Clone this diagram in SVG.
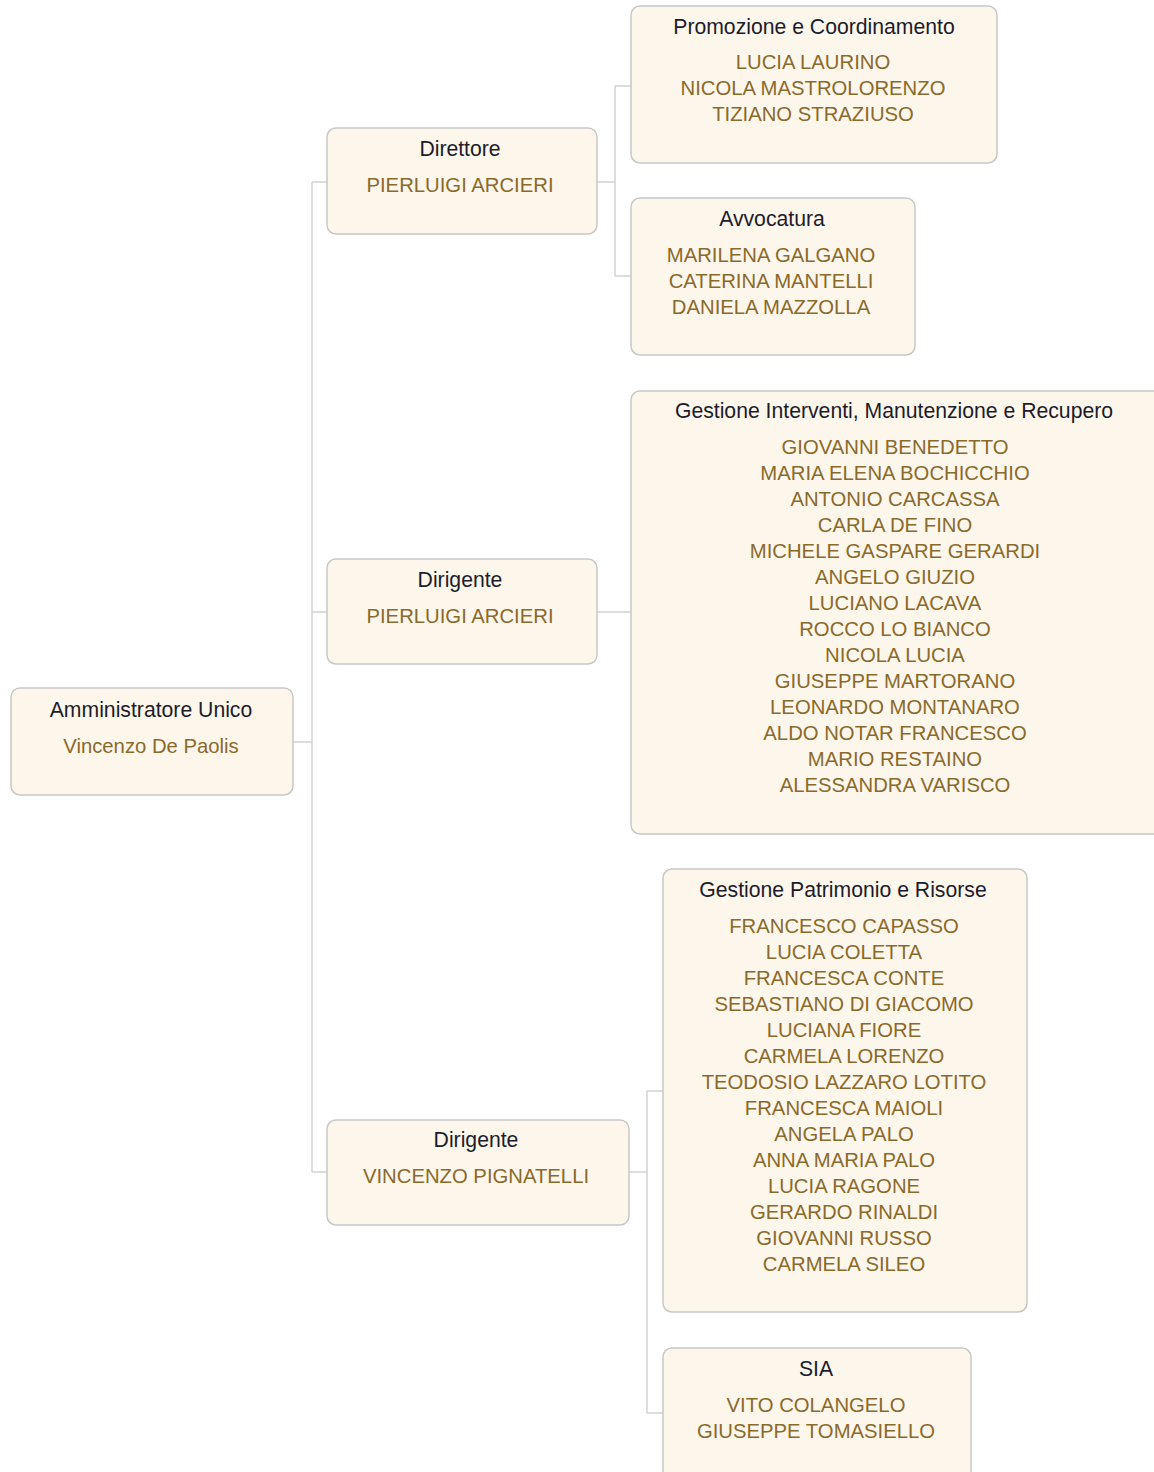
<svg xmlns="http://www.w3.org/2000/svg" width="1154" height="1472" viewBox="0 0 1154 1472">
<style>
.box{fill:#fdf6ea;stroke:#c8c8c8;stroke-width:1.5}
.t{font-family:"Liberation Sans",Arial,sans-serif;font-size:21.2px;fill:#1c1c2c;text-anchor:middle}
.n{font-family:"Liberation Sans",Arial,sans-serif;font-size:20.3px;fill:#8a6a2c;text-anchor:middle}
.c{fill:none;stroke:#d2d2d2;stroke-width:1.5}
</style>
<rect width="1154" height="1472" fill="#ffffff"/>
<g id="connectors">
<path class="c" d="M293,742 H312 M312,182 V1172 M312,182 H327 M312,612 H327 M312,1172 H327"/>
<path class="c" d="M597,182 H615 M615,86 V276 M615,86 H631 M615,276 H631"/>
<path class="c" d="M597,612 H631"/>
<path class="c" d="M629,1172 H647 M647,1091 V1413 M647,1091 H663 M647,1413 H663"/>
</g>
<g id="root">
<rect class="box" x="11" y="688" width="282" height="107" rx="9"/>
<text class="t" x="151" y="717">Amministratore Unico</text>
<text class="n" x="151" y="753">Vincenzo De Paolis</text>
</g>
<g id="direttore">
<rect class="box" x="327" y="128" width="270" height="106" rx="9"/>
<text class="t" x="460" y="156">Direttore</text>
<text class="n" x="460" y="192">PIERLUIGI ARCIERI</text>
</g>
<g id="promozione">
<rect class="box" x="631" y="6" width="366" height="157" rx="9"/>
<text class="t" x="814" y="34">Promozione e Coordinamento</text>
<text class="n" x="813" y="69">LUCIA LAURINO</text>
<text class="n" x="813" y="95">NICOLA MASTROLORENZO</text>
<text class="n" x="813" y="121">TIZIANO STRAZIUSO</text>
</g>
<g id="avvocatura">
<rect class="box" x="631" y="198" width="284" height="157" rx="9"/>
<text class="t" x="772" y="226">Avvocatura</text>
<text class="n" x="771" y="262">MARILENA GALGANO</text>
<text class="n" x="771" y="288">CATERINA MANTELLI</text>
<text class="n" x="771" y="314">DANIELA MAZZOLLA</text>
</g>
<g id="dirigente1">
<rect class="box" x="327" y="559" width="270" height="105" rx="9"/>
<text class="t" x="460" y="587">Dirigente</text>
<text class="n" x="460" y="623">PIERLUIGI ARCIERI</text>
</g>
<g id="gestione-interventi">
<rect class="box" x="631" y="391" width="540" height="443" rx="9"/>
<text class="t" x="894" y="418">Gestione Interventi, Manutenzione e Recupero</text>
<text class="n" x="895" y="454">GIOVANNI BENEDETTO</text>
<text class="n" x="895" y="480">MARIA ELENA BOCHICCHIO</text>
<text class="n" x="895" y="506">ANTONIO CARCASSA</text>
<text class="n" x="895" y="532">CARLA DE FINO</text>
<text class="n" x="895" y="558">MICHELE GASPARE GERARDI</text>
<text class="n" x="895" y="584">ANGELO GIUZIO</text>
<text class="n" x="895" y="610">LUCIANO LACAVA</text>
<text class="n" x="895" y="636">ROCCO LO BIANCO</text>
<text class="n" x="895" y="662">NICOLA LUCIA</text>
<text class="n" x="895" y="688">GIUSEPPE MARTORANO</text>
<text class="n" x="895" y="714">LEONARDO MONTANARO</text>
<text class="n" x="895" y="740">ALDO NOTAR FRANCESCO</text>
<text class="n" x="895" y="766">MARIO RESTAINO</text>
<text class="n" x="895" y="792">ALESSANDRA VARISCO</text>
</g>
<g id="dirigente2">
<rect class="box" x="327" y="1120" width="302" height="105" rx="9"/>
<text class="t" x="476" y="1147">Dirigente</text>
<text class="n" x="476" y="1183">VINCENZO PIGNATELLI</text>
</g>
<g id="gestione-patrimonio">
<rect class="box" x="663" y="869" width="364" height="443" rx="9"/>
<text class="t" x="843" y="897">Gestione Patrimonio e Risorse</text>
<text class="n" x="844" y="933">FRANCESCO CAPASSO</text>
<text class="n" x="844" y="959">LUCIA COLETTA</text>
<text class="n" x="844" y="985">FRANCESCA CONTE</text>
<text class="n" x="844" y="1011">SEBASTIANO DI GIACOMO</text>
<text class="n" x="844" y="1037">LUCIANA FIORE</text>
<text class="n" x="844" y="1063">CARMELA LORENZO</text>
<text class="n" x="844" y="1089">TEODOSIO LAZZARO LOTITO</text>
<text class="n" x="844" y="1115">FRANCESCA MAIOLI</text>
<text class="n" x="844" y="1141">ANGELA PALO</text>
<text class="n" x="844" y="1167">ANNA MARIA PALO</text>
<text class="n" x="844" y="1193">LUCIA RAGONE</text>
<text class="n" x="844" y="1219">GERARDO RINALDI</text>
<text class="n" x="844" y="1245">GIOVANNI RUSSO</text>
<text class="n" x="844" y="1271">CARMELA SILEO</text>
</g>
<g id="sia">
<rect class="box" x="663" y="1348" width="308" height="157" rx="9"/>
<text class="t" x="816" y="1376">SIA</text>
<text class="n" x="816" y="1412">VITO COLANGELO</text>
<text class="n" x="816" y="1438">GIUSEPPE TOMASIELLO</text>
</g>
</svg>
